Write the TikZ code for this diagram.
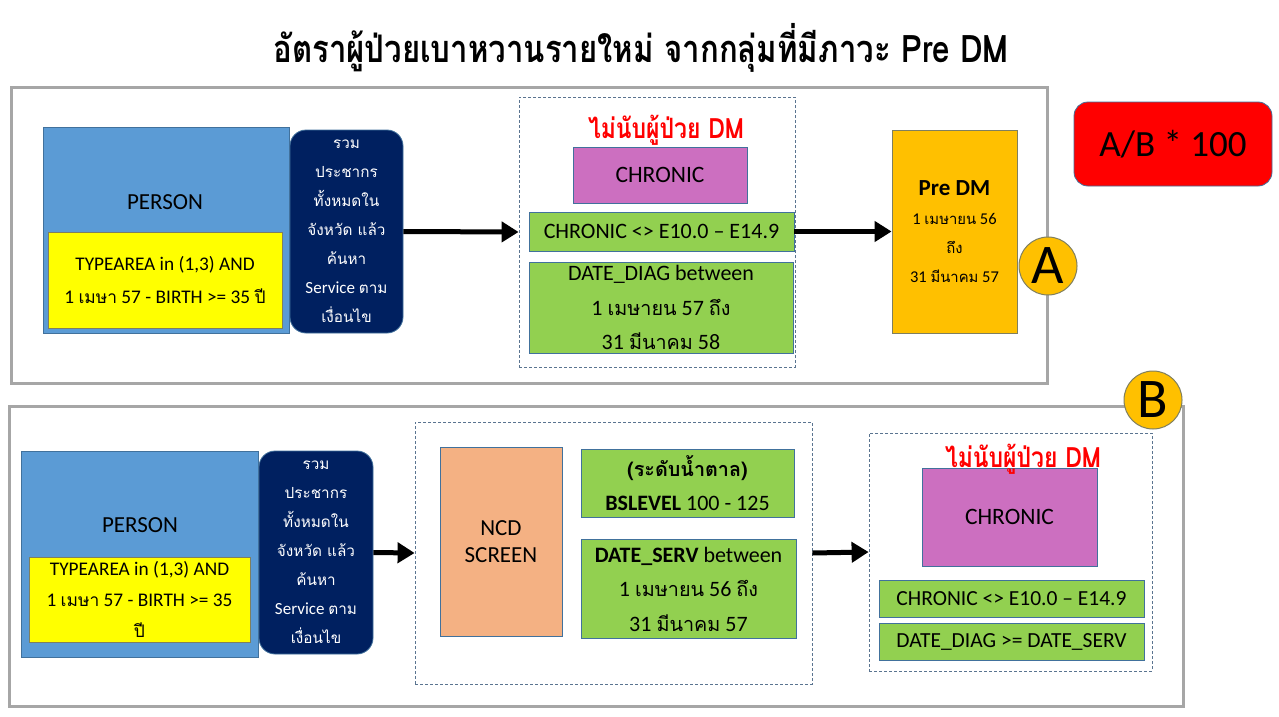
\documentclass[tikz,border=0pt]{standalone}
\usepackage{fontspec}
\setmainfont{Carlito}
\newfontfamily\thai[Script=Thai,Scale=0.9]{Loma}
\newfontfamily\thaicond[Script=Thai,FakeStretch=0.82]{Loma}
\usetikzlibrary{arrows.meta}
\definecolor{pblue}{HTML}{5B9BD5}
\definecolor{pyellow}{HTML}{FFFF00}
\definecolor{pnavy}{HTML}{002060}
\definecolor{pgreen}{HTML}{92D050}
\definecolor{ppurple}{HTML}{CC6FC0}
\definecolor{porange}{HTML}{FFC000}
\definecolor{ppeach}{HTML}{F4B183}
\definecolor{pred}{HTML}{FF0000}
\definecolor{edgeblue}{HTML}{41719C}
\definecolor{edgeolive}{HTML}{7F7F5F}
\definecolor{panelgray}{HTML}{A6A6A6}
\definecolor{dashcol}{HTML}{5A7490}
\newcommand{\fs}[2]{\fontsize{#1}{#2}\selectfont}
\begin{document}
\begin{tikzpicture}[x=1pt,y=-1pt,
  box/.style={draw=edgeblue, line width=0.8pt, inner sep=0pt, anchor=center, align=center},
  panel/.style={draw=panelgray, line width=3pt, inner sep=0pt},
  dashbox/.style={draw=dashcol, line width=0.8pt, dash pattern=on 3pt off 2pt, inner sep=0pt},
  arr/.style={line width=5pt, -{Triangle[length=17pt,width=20pt]}},
  navytext/.style={text=white, font=\fs{17}{29}},
  greentext/.style={font=\fs{22}{34.5}},
  badge/.style={circle, draw=edgeolive, line width=1pt, fill=porange, minimum size=58pt, inner sep=0pt, font=\fs{56}{56}},
  redlabel/.style={text=pred, font=\thaicond\bfseries\fs{28}{28}, inner sep=0pt}
]
\useasboundingbox (0,0) rectangle (1279,717);
\fill[white] (0,0) rectangle (1279,717);

% title
\node (title) at (641,48) {\thaicond\bfseries\fs{38}{40}อัตราผู้ป่วยเบาหวานรายใหม่ จากกลุ่มที่มีภาวะ Pre DM};

% ---------- top panel ----------
\node[panel, minimum width=1036pt, minimum height=296pt] (panelA) at (529,235) {};
\node[box, fill=pblue, minimum width=246pt, minimum height=206pt] (person1) at (166,230) {};
\node[font=\fs{23}{23}] (person1lbl) at (165,202) {PERSON};
\node[box, draw=edgeolive, fill=pyellow, minimum width=234pt, minimum height=96pt, font=\fs{19.3}{33}] (yellow1) at (165,280)
  {TYPEAREA in (1,3) AND\\1 {\thai เมษา} 57 - BIRTH >= 35 {\thai ปี}};
\node[box, fill=pnavy, rounded corners=16pt, minimum width=113pt, minimum height=203pt, navytext] (navy1) at (346.5,231.5)
  {\thai รวม\\\thai ประชากร\\\thai ทั้งหมดใน\\\thai จังหวัด แล้ว\\\thai ค้นหา\\Service {\thai ตาม}\\\thai เงื่อนไข};
\node[dashbox, minimum width=276pt, minimum height=270pt] (dash1) at (657,232) {};
\node[box, fill=ppurple, minimum width=174pt, minimum height=56pt, font=\fs{23.5}{23.5}] (chron1) at (660,175) {CHRONIC};
\node[redlabel] (excl1) at (666,130) {ไม่นับผู้ป่วย DM};
\node[box, fill=pgreen, minimum width=265pt, minimum height=39pt, greentext] (g1a) at (661.5,231.5) {CHRONIC <> E10.0 – E14.9};
\node[box, fill=pgreen, minimum width=264pt, minimum height=91pt, greentext] (g1b) at (661,307.5)
  {DATE\_DIAG between\\1 {\thai เมษายน} 57 {\thai ถึง}\\31 {\thai มีนาคม} 58};
\node[box, draw=edgeolive, fill=porange, minimum width=125pt, minimum height=203pt, font=\fs{16.5}{29}] (predm) at (954.5,231.5)
  {{\bfseries\fs{23}{29}Pre DM}\\1 {\thai เมษายน} 56\\\thai ถึง\\31 {\thai มีนาคม} 57};
\node[badge] (circA) at (1048,266) {A};
\node[box, draw=edgeblue, fill=pred, rounded corners=14pt, minimum width=198pt, minimum height=84pt, font=\fs{37}{37}] (ab) at (1173,144) {A/B * 100};

\draw[arr] (navy1.east) -- (dash1.west);
\draw[arr] (g1a.east) -- (predm.west);

% ---------- bottom panel ----------
\node[panel, minimum width=1174pt, minimum height=300pt] (panelB) at (596,556) {};
\node[box, fill=pblue, minimum width=237pt, minimum height=206pt] (person2) at (139.5,554) {};
\node[font=\fs{23}{23}] (person2lbl) at (140,525) {PERSON};
\node[box, draw=edgeolive, fill=pyellow, minimum width=221pt, minimum height=85pt, font=\fs{19.3}{31}] (yellow2) at (139.5,599.5)
  {TYPEAREA in (1,3) AND\\1 {\thai เมษา} 57 - BIRTH >= 35\\\thai ปี};
\node[box, fill=pnavy, rounded corners=16pt, minimum width=114pt, minimum height=203pt, navytext] (navy2) at (316,552.5)
  {\thai รวม\\\thai ประชากร\\\thai ทั้งหมดใน\\\thai จังหวัด แล้ว\\\thai ค้นหา\\Service {\thai ตาม}\\\thai เงื่อนไข};
\node[dashbox, minimum width=397pt, minimum height=262pt] (dash2) at (613.5,553) {};
\node[box, fill=ppeach, minimum width=122pt, minimum height=189pt, font=\fs{23}{27}] (ncd) at (501,541.5) {NCD\\SCREEN};
\node[box, fill=pgreen, minimum width=213pt, minimum height=68pt, greentext] (bs) at (687.5,483)
  {{\thai\bfseries (ระดับน้ำตาล)}\\\textbf{BSLEVEL} 100 - 125};
\node[box, fill=pgreen, minimum width=215pt, minimum height=99pt, greentext] (ds) at (688.5,589)
  {\textbf{DATE\_SERV} between\\1 {\thai เมษายน} 56 {\thai ถึง}\\31 {\thai มีนาคม} 57};
\node[dashbox, minimum width=283pt, minimum height=238pt] (dash3) at (1010.5,552) {};
\node[box, fill=ppurple, minimum width=175pt, minimum height=98pt, font=\fs{23.5}{23.5}] (chron2) at (1009.5,517) {CHRONIC};
\node[redlabel] (excl2) at (1023,459) {ไม่นับผู้ป่วย DM};
\node[box, fill=pgreen, minimum width=265pt, minimum height=37pt, font=\fs{21.5}{21.5}] (g2a) at (1011.5,598.5) {CHRONIC <> E10.0 – E14.9};
\node[box, fill=pgreen, minimum width=265pt, minimum height=37pt, font=\fs{21.5}{21.5}] (g2b) at (1011.5,641.5) {DATE\_DIAG >= DATE\_SERV};
\node[badge] (circB) at (1153,400) {B};

\draw[arr] (navy2.east) -- (dash2.west);
\draw[arr] (dash2.east) -- (dash3.west);
\end{tikzpicture}
\end{document}
